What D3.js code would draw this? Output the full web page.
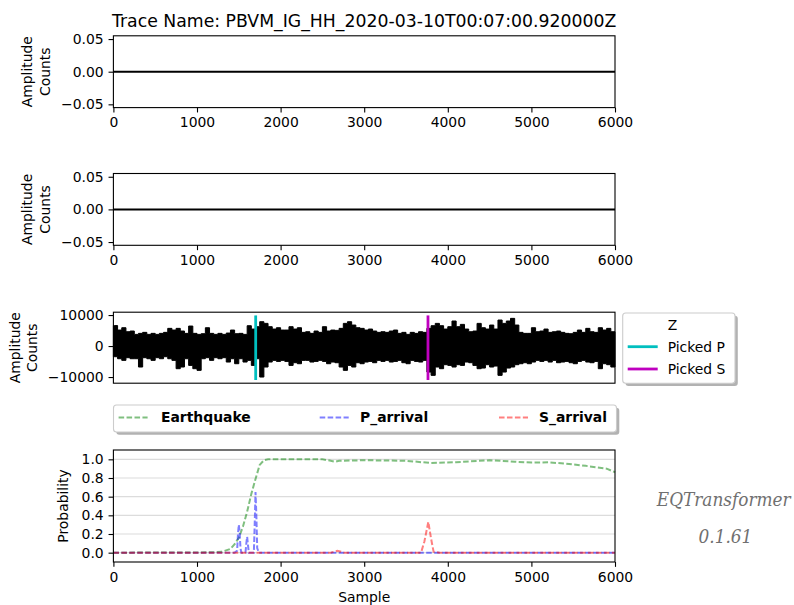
<!DOCTYPE html>
<html><head><meta charset="utf-8">
<script src="https://cdn.jsdelivr.net/npm/d3@7"></script>
<style>
body{margin:0;background:#fff}
svg{display:block}
text{font-family:"DejaVu Sans",sans-serif;fill:#000}
</style>
</head><body>
<svg id="chart" width="794" height="605"></svg>
<script>
// ---------------- data ----------------
const titleText = "Trace Name: PBVM_IG_HH_2020-03-10T00:07:00.920000Z";
const sampleTicks = [0, 1000, 2000, 3000, 4000, 5000, 6000];
const flatTicks = [-0.05, 0.00, 0.05];
const zTicks = [-10000, 0, 10000];
const probTicks = [0.0, 0.2, 0.4, 0.6, 0.8, 1.0];
const flatDomain = [-0.055, 0.055];
const probDomain = [-0.1, 1.1];

// E and N channels are zero traces
const flatSamples = [0, 6000];
const flatValues = [0, 0];

// Z channel envelope (counts), one value per 50-sample bin
const binSize = 50;
const zUpper = [6600,5160,5910,4620,4840,3760,4090,4410,3760,4090,3760,4090,4410,5700,5160,5700,4840,4090,6450,4090,
  3760,3980,5910,4090,3760,4090,3760,4190,5160,3980,4090,3760,6560,5480,6240,7850,7310,6240,5480,5910,
  5160,5160,6240,5480,5910,4410,4620,4090,4840,4410,6240,4840,5160,5050,5700,7310,7850,6770,5910,5700,
  5160,5480,4840,4410,4620,4410,4840,5160,4090,4410,3760,4410,4090,4620,4410,5700,6560,7310,6560,5480,
  6240,8070,6240,6990,5480,4620,4840,7310,5910,5480,6770,5480,8390,7310,8070,8930,6770,4410,4090,4090,
  5910,4620,4840,5480,4410,4620,4840,4410,4090,3980,4410,5160,4410,5700,4620,4410,5910,5160,5700,4620];
const zLower = [-3440,-4090,-4620,-3760,-4090,-4090,-6770,-3760,-4090,-4620,-3760,-4090,-3440,-4090,-4620,-7310,-6770,-4090,-6240,-7310,
  -7850,-4090,-3760,-4620,-3760,-4090,-3760,-5160,-4090,-5700,-4090,-5160,-4620,-6240,-4090,-10000,-6770,-5160,-4620,-4950,
  -4620,-4950,-6240,-5380,-5700,-4620,-4620,-5160,-4950,-4620,-4950,-5700,-5160,-5380,-6770,-7850,-6240,-6770,-5380,-5700,
  -5160,-4950,-5380,-4620,-4950,-4620,-5160,-4950,-4620,-5380,-5700,-4620,-4950,-5160,-4620,-8390,-9460,-6770,-7310,-6020,
  -6240,-6770,-6020,-6240,-5160,-5380,-6240,-7310,-7100,-6020,-6770,-6450,-9460,-8390,-7100,-6770,-6020,-5700,-5380,-5700,
  -5160,-4620,-4950,-4620,-5160,-4620,-5380,-5160,-4950,-5380,-5700,-4950,-4620,-5160,-5380,-4950,-7310,-5700,-6020,-6770];
const pickP = 1702;
const pickS = 3763;

// probabilities
const eqSamples = [0,1000,1200,1300,1400,1450,1500,1550,1600,1650,1700,1750,1800,1850,2000,2500,2600,2650,2700,3000,3500,3800,4100,4500,4800,5000,5200,5400,5650,5900,5980,6000];
const eqValues  = [0,0.002,0.005,0.01,0.04,0.09,0.16,0.28,0.44,0.63,0.79,0.94,0.99,1.0,1.0,1.0,0.985,0.975,0.985,0.99,0.985,0.96,0.97,0.99,0.975,0.965,0.968,0.955,0.93,0.9,0.87,0.86];
const pSamples = [0,1450,1480,1490,1500,1510,1520,1530,1580,1590,1600,1610,1620,1680,1690,1700,1710,1720,1740,6000];
const pValues  = [0,0,0.02,0.2,0.3,0.22,0.05,0,0,0.1,0.17,0.08,0,0,0.3,0.65,0.4,0.05,0,0];
const sSamples = [0,2600,2680,2760,3680,3720,3767,3800,3830,3900,6000];
const sValues  = [0,0,0.02,0,0,0.12,0.33,0.15,0.01,0,0];

const legendTop = ["Earthquake", "P_arrival", "S_arrival"];
const legendTopColors = ["#008000", "#0000ff", "#ff0000"];
const legendZ = ["Z", "Picked P", "Picked S"];

// ---------------- drawing ----------------
const svg = d3.select("#chart");
const FS = 13.9;
const X0 = 113.4, X1 = 615;
const x = d3.scaleLinear().domain([0, 6000]).range([X0, X1]);
const TL = 4.86, TP = 4.86;

function styleAxis(g){
  g.select(".domain").remove();
  g.selectAll(".tick line").attr("stroke","#000").attr("stroke-width",1.1);
  g.selectAll(".tick text").attr("font-size",FS).attr("font-family","DejaVu Sans").attr("fill","#000");
}
function frame(top,bottom){
  svg.append("rect").attr("x",X0).attr("y",top).attr("width",X1-X0).attr("height",bottom-top)
    .attr("fill","none").attr("stroke","#000").attr("stroke-width",1.1);
}
function ylab(lines, xs, cy){
  lines.forEach((t,i)=>{
    svg.append("text").attr("transform",`translate(${xs[i]},${cy}) rotate(-90)`)
      .attr("text-anchor","middle").attr("font-size",FS).text(t);
  });
}

// title
svg.append("text").attr("x",(X0+X1)/2).attr("y",26.7).attr("text-anchor","middle")
  .attr("font-size",17.3).text(titleText);

// Panels 1 & 2 (flat traces)
[[35.8,107.6],[173.5,245.3]].forEach(([top,bottom])=>{
  const y = d3.scaleLinear().domain(flatDomain).range([bottom,top]);
  svg.append("path").datum(flatSamples.map((s,i)=>[s,flatValues[i]]))
    .attr("d",d3.line().x(d=>x(d[0])).y(d=>y(d[1])))
    .attr("fill","none").attr("stroke","#000").attr("stroke-width",2);
  const gy = svg.append("g").attr("transform",`translate(${X0},0)`)
    .call(d3.axisLeft(y).tickValues(flatTicks).tickFormat(d3.format(".2f")).tickSize(TL).tickPadding(TP));
  styleAxis(gy);
  const gx = svg.append("g").attr("transform",`translate(0,${bottom})`)
    .call(d3.axisBottom(x).tickValues(sampleTicks).tickFormat(d3.format("d")).tickSize(TL).tickPadding(TP));
  styleAxis(gx);
  frame(top,bottom);
  ylab(["Amplitude","Counts"],[31.7,50.3],(top+bottom)/2);
});

// Panel 3 (Z waveform)
(function(){
  const top=312.2, bottom=383.2;
  const dmin = d3.min(zLower), dmax = d3.max(zUpper);
  const d = dmax-dmin;
  const lim1 = [dmin-0.05*d, dmax+0.05*d];
  const d1 = lim1[1]-lim1[0];
  const y = d3.scaleLinear().domain([lim1[0]-0.05*d1, lim1[1]+0.05*d1]).range([bottom,top]);
  const bins = zUpper.map((u,k)=>({s:k*binSize+binSize/2,u:u,l:zLower[k]}));
  const pts = [{s:0,u:zUpper[0],l:zLower[0]}].concat(bins).concat([{s:6000,u:zUpper[zUpper.length-1],l:zLower[zLower.length-1]}]);
  svg.append("path").datum(pts)
    .attr("d",d3.area().curve(d3.curveStep).x(p=>x(p.s)).y0(p=>y(p.l)).y1(p=>y(p.u)))
    .attr("fill","#000").attr("stroke","#000").attr("stroke-width",1);
  svg.append("line").attr("x1",x(pickP)).attr("x2",x(pickP)).attr("y1",y(lim1[0])).attr("y2",y(lim1[1]))
    .attr("stroke","#00bfbf").attr("stroke-width",2.8);
  svg.append("line").attr("x1",x(pickS)).attr("x2",x(pickS)).attr("y1",y(lim1[0])).attr("y2",y(lim1[1]))
    .attr("stroke","#bf00bf").attr("stroke-width",2.8);
  const gy = svg.append("g").attr("transform",`translate(${X0},0)`)
    .call(d3.axisLeft(y).tickValues(zTicks).tickFormat(d3.format("d")).tickSize(TL).tickPadding(TP));
  styleAxis(gy);
  frame(top,bottom);
  ylab(["Amplitude","Counts"],[20,37.3],(top+bottom)/2);

  // legend
  const lx=622.7, ly=313, lw=112.3, lh=70.3;
  svg.append("rect").attr("x",lx+2.8).attr("y",ly+2.8).attr("width",lw).attr("height",lh).attr("rx",3)
    .attr("fill","#000").attr("fill-opacity",0.3);
  svg.append("rect").attr("x",lx).attr("y",ly).attr("width",lw).attr("height",lh).attr("rx",3)
    .attr("fill","#fff").attr("stroke","#ccc").attr("stroke-width",1.1);
  const cols=[null,"#00bfbf","#bf00bf"];
  const ys=[325,346.7,369];
  legendZ.forEach((t,i)=>{
    if(cols[i]) svg.append("line").attr("x1",627.7).attr("x2",657.7).attr("y1",ys[i]).attr("y2",ys[i])
      .attr("stroke",cols[i]).attr("stroke-width",2.8);
    svg.append("text").attr("x",667.7).attr("y",ys[i]+4.9).attr("font-size",FS).text(t);
  });
})();

// Panel 4 legend
(function(){
  const lx=113.5, ly=405, lw=503, lh=27;
  svg.append("rect").attr("x",lx+2.8).attr("y",ly+2.8).attr("width",lw).attr("height",lh).attr("rx",3)
    .attr("fill","#000").attr("fill-opacity",0.3);
  svg.append("rect").attr("x",lx).attr("y",ly).attr("width",lw).attr("height",lh).attr("rx",3)
    .attr("fill","#fff").attr("stroke","#ccc").attr("stroke-width",1.1);
  const hx=[118.6,319.7,499], tx=[161,360,539];
  legendTop.forEach((t,i)=>{
    svg.append("line").attr("x1",hx[i]).attr("x2",hx[i]+29).attr("y1",417.5).attr("y2",417.5)
      .attr("stroke",legendTopColors[i]).attr("stroke-opacity",0.5).attr("stroke-width",2)
      .attr("stroke-dasharray","5.55,2.4");
    svg.append("text").attr("x",tx[i]).attr("y",422.4).attr("font-size",FS).attr("font-weight","bold").text(t);
  });
})();

// Panel 4 (probabilities)
(function(){
  const top=450, bottom=562;
  const y = d3.scaleLinear().domain(probDomain).range([bottom,top]);
  svg.append("g").selectAll("line").data(probTicks).join("line")
    .attr("x1",X0).attr("x2",X1).attr("y1",d=>y(d)).attr("y2",d=>y(d))
    .attr("stroke","#dcdcdc").attr("stroke-width",1.1);
  const line = d3.line().x(d=>x(d[0])).y(d=>y(d[1]));
  const series = [[eqSamples,eqValues,"#008000"],[pSamples,pValues,"#0000ff"],[sSamples,sValues,"#ff0000"]];
  series.forEach(([s,v,c])=>{
    svg.append("path").datum(s.map((a,i)=>[a,v[i]])).attr("d",line)
      .attr("fill","none").attr("stroke",c).attr("stroke-opacity",0.5).attr("stroke-width",2)
      .attr("stroke-dasharray","5.55,2.4");
  });
  const gy = svg.append("g").attr("transform",`translate(${X0},0)`)
    .call(d3.axisLeft(y).tickValues(probTicks).tickFormat(d3.format(".1f")).tickSize(TL).tickPadding(TP));
  styleAxis(gy);
  const gx = svg.append("g").attr("transform",`translate(0,${bottom})`)
    .call(d3.axisBottom(x).tickValues(sampleTicks).tickFormat(d3.format("d")).tickSize(TL).tickPadding(TP));
  styleAxis(gx);
  frame(top,bottom);
  ylab(["Probability"],[68.4],(top+bottom)/2);
  svg.append("text").attr("x",(X0+X1)/2).attr("y",601.8).attr("text-anchor","middle").attr("font-size",FS).text("Sample");
  // model annotation
  svg.append("text").attr("x",x(6500)).attr("y",y(0.5)).attr("font-size",18.8)
    .attr("font-style","italic").attr("font-stretch","condensed")
    .style("fill","#707070").style("font-family","'DejaVu Serif', serif").text("EQTransformer");
  svg.append("text").attr("x",x(7000)).attr("y",y(0.1)).attr("font-size",18.8)
    .attr("font-style","italic").attr("font-stretch","condensed")
    .style("fill","#707070").style("font-family","'DejaVu Serif', serif").text("0.1.61");
})();
</script>
</body></html>
